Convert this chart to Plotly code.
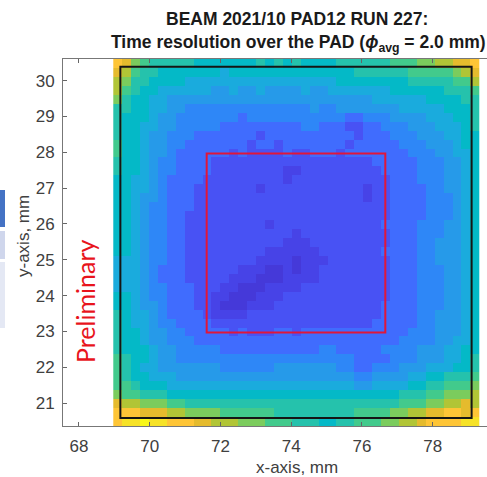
import plotly.graph_objects as go

W, H = 487, 477
ML, MR, MT, MB = 63, 0, 59, 51

# Time-resolution map of the pad, one hex level per 0.25 mm cell
# (0 = best resolution, f = worst); rows run from the top (y = 30.48 mm) down.
LEVEL_ROWS = [
    "dca9888887" "7777778787" "8777788888" "8999aabbccd",
    "cb98877777" "7767777777" "7777777888" "88899999abc",
    "ba88777766" "6666666666" "6666677777" "7778888899b",
    "b987766666" "6556556555" "5655666666" "67777778889",
    "a877665555" "5555555555" "5555555556" "66666777788",
    "8877665544" "4444444444" "4454455555" "55666667778",
    "8777655444" "4444344444" "4444443344" "45555666778",
    "8776655444" "4433333333" "3443332233" "44455566678",
    "8776554443" "3333332333" "3333333233" "34445556677",
    "9776554433" "3333323323" "3333332333" "33444555677",
    "9776554333" "3332322223" "2233323333" "33344455667",
    "8776544333" "3222222222" "2222222223" "33334445567",
    "8776544333" "3222222221" "1222222222" "33334445567",
    "7766543333" "2222222221" "2222222222" "23334445567",
    "7766543332" "2222221222" "2222222212" "23333445567",
    "7765543332" "2222222222" "2222222212" "23333444567",
    "7765443332" "2222222222" "2222222222" "23333444567",
    "7765443322" "2222222222" "2222222222" "23333444567",
    "7765443322" "2222222122" "2222222222" "33334445567",
    "7765443322" "2222222222" "1222222222" "23334445567",
    "7765443322" "2222222221" "1122222222" "23334455567",
    "7765443322" "2222222111" "1112222222" "33334455567",
    "6665443322" "2222221111" "0111222222" "23334455567",
    "6665433322" "2222111001" "0112222222" "23334445567",
    "6665433322" "2221110001" "1112222222" "23334445567",
    "6665443332" "2211000111" "1222222222" "23334445567",
    "7765443332" "2110001112" "2222222222" "23334445567",
    "7765543332" "2100011122" "2222222222" "33334445567",
    "8766543333" "2111122222" "2222222222" "33334455567",
    "8766544333" "3222222222" "2222222223" "33334455567",
    "8776554433" "3332322233" "2333333333" "33344455567",
    "8776554443" "3333333333" "3333333333" "33444455667",
    "8777655444" "4433333333" "3334433333" "44445556677",
    "9877655444" "4444444444" "4444444333" "34445556678",
    "9876655555" "5544444455" "5555544334" "44555666778",
    "9877666555" "5555555555" "5555555445" "55566778889",
    "9987776666" "6666666666" "6666666556" "6667788999a",
    "a998887777" "7777777777" "7777777777" "7788899aaab",
    "cbbaaa9988" "8888888888" "8888888888" "88999aabbcb",
    "dddcccbbaa" "aa99999988" "8888888999" "9aabbccddcd",
    "deefeedddc" "cbbbaaa999" "8887788999" "aabbcddddee",
]

# normalised resolution for each hex level (0 .. f)
LEVEL_VALUE = [0.07, 0.10, 0.14, 0.21, 0.28, 0.34, 0.40, 0.46,
               0.52, 0.58, 0.65, 0.71, 0.78, 0.85, 0.92, 0.98]

X_TICKS = [68, 70, 72, 74, 76, 78]
Y_TICKS = [21, 22, 23, 24, 25, 26, 27, 28, 29, 30]

# pad outline and central 5 x 5 mm region, mm
PAD_X = [69.17, 79.10]
PAD_Y = [20.58, 30.39]
CORE_X = [71.61, 76.66]
CORE_Y = [22.97, 27.97]

X_RANGE = [67.548, 79.535]
Y_RANGE = [20.36, 30.605]

PARULA = [
    (0.2422, 0.1504, 0.6603), (0.2578, 0.1818, 0.7511), (0.2706, 0.2147, 0.8364),
    (0.2783, 0.2559, 0.8991), (0.2813, 0.3006, 0.9414), (0.2795, 0.3447, 0.9717),
    (0.2699, 0.3892, 0.9906), (0.2440, 0.4358, 0.9988), (0.1963, 0.4847, 0.9892),
    (0.1786, 0.5289, 0.9682), (0.1687, 0.5703, 0.9359), (0.1460, 0.6091, 0.9079),
    (0.1248, 0.6459, 0.8883), (0.0952, 0.6798, 0.8598), (0.0297, 0.7082, 0.8163),
    (0.0067, 0.7312, 0.7660), (0.0964, 0.7500, 0.7120), (0.1717, 0.7670, 0.6554),
    (0.2161, 0.7843, 0.5923), (0.2906, 0.7973, 0.5188), (0.3909, 0.8029, 0.4354),
    (0.5044, 0.7993, 0.3480), (0.6174, 0.7876, 0.2612), (0.7242, 0.7698, 0.1910),
    (0.8203, 0.7498, 0.1535), (0.9035, 0.7330, 0.1774), (0.9728, 0.7298, 0.2394),
    (0.9970, 0.7659, 0.2199), (0.9892, 0.8136, 0.1885), (0.9676, 0.8639, 0.1643),
    (0.9597, 0.9135, 0.1423), (0.9691, 0.9606, 0.1064), (0.9769, 0.9839, 0.0805),
]
n = len(PARULA) - 1
colorscale = [
    [i / n, "rgb(%d,%d,%d)" % tuple(round(255 * c) for c in rgb)]
    for i, rgb in enumerate(PARULA)
]

z = [[LEVEL_VALUE[int(ch, 16)] for ch in row] for row in LEVEL_ROWS]
for row in z:
    assert len(row) == 41, len(row)
z = z[::-1]  # bottom row first

FONT = "Liberation Sans, Arial, sans-serif"

fig = go.Figure()
fig.add_trace(go.Heatmap(
    z=z, x0=69.096, dx=0.2525, y0=20.48, dy=0.25,
    colorscale=colorscale, zmin=0, zmax=1,
    showscale=False, hoverinfo="skip",
))

fig.add_shape(type="rect", x0=PAD_X[0], x1=PAD_X[1], y0=PAD_Y[0], y1=PAD_Y[1],
              line=dict(color="#151515", width=2))
fig.add_shape(type="rect", x0=CORE_X[0], x1=CORE_X[1], y0=CORE_Y[0], y1=CORE_Y[1],
              line=dict(color="#e0163a", width=2))


def px_x(px):
    return (px - ML) / (W - ML - MR)


def px_y(py):
    return (H - MB - py) / (H - MT - MB)


# side tabs at the left edge
for y_top, y_bot, col in [(190, 227, "#4472c4"), (231, 259, "#cfd6ec"), (262, 328, "#e4e8f4")]:
    fig.add_shape(type="rect", xref="paper", yref="paper",
                  x0=px_x(0), x1=px_x(5), y0=px_y(y_bot), y1=px_y(y_top),
                  line=dict(width=0), fillcolor=col, layer="above")


def label(text, px, py, size, color, family=FONT, angle=0):
    fig.add_annotation(text=text, textangle=angle, xref="paper", yref="paper",
                       x=px_x(px), y=px_y(py), xanchor="center", yanchor="middle",
                       showarrow=False,
                       font=dict(family=family, size=size, color=color))


label("Preliminary", 85, 301, 25, "#e8141c", family="Lato, sans-serif", angle=-90)
label("y-axis, mm", 23, 236, 17, "#404040", angle=-90)
label("x-axis, mm", 297, 467, 17, "#404040")
label("<b>BEAM 2021/10 PAD12 RUN 227:</b>", 297, 19, 17.5, "#1a1a1a")
label("<b>Time resolution over the PAD (<i>ϕ</i><sub>avg</sub> = 2.0 mm)</b>",
      298, 43, 17.5, "#1a1a1a")

axis_common = dict(
    ticks="inside", ticklen=4, tickcolor="#666666", showline=True,
    linecolor="#777777", linewidth=1, showgrid=False, zeroline=False,
    tickfont=dict(family=FONT, size=17, color="#404040"),
)
fig.update_xaxes(range=X_RANGE, tickvals=X_TICKS, mirror="ticks",
                 ticklabelstandoff=5, **axis_common)
fig.update_yaxes(range=Y_RANGE, tickvals=Y_TICKS, mirror=False, ticklabelstandoff=4,
                 **axis_common)

fig.update_layout(
    width=W, height=H,
    margin=dict(l=ML, r=MR, t=MT, b=MB),
    paper_bgcolor="white", plot_bgcolor="white",
    showlegend=False,
)

fig.write_html("out.html")
